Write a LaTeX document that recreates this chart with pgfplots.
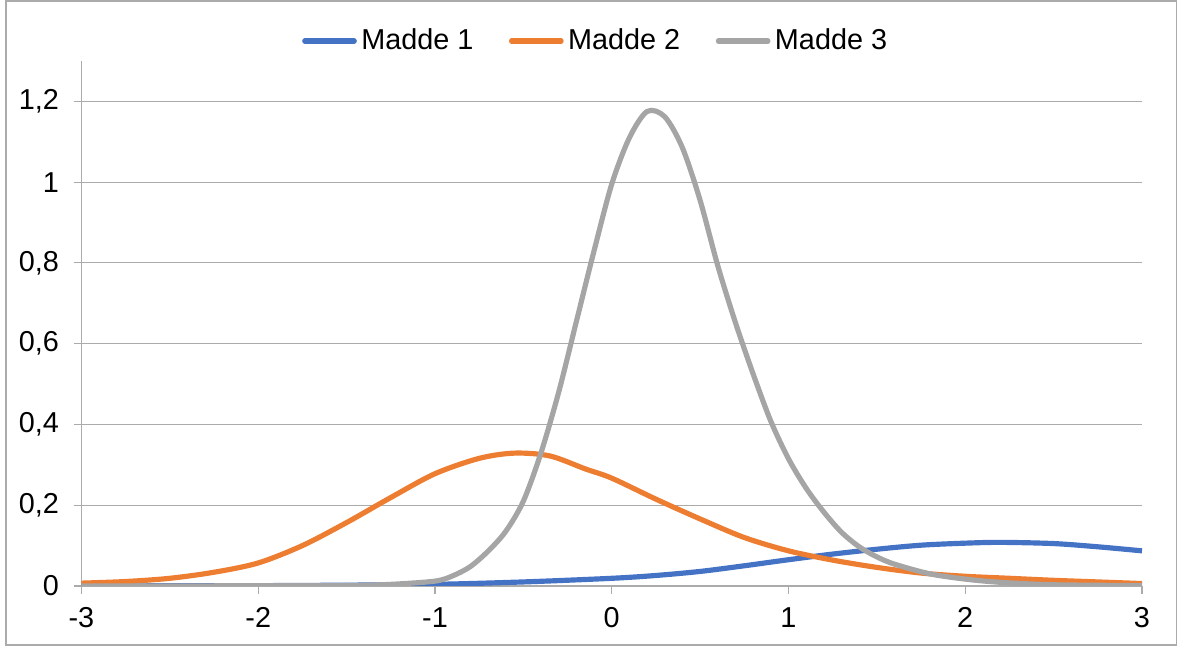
\documentclass[border=0pt]{standalone}
\usepackage{pgfplots}
\pgfplotsset{compat=1.18}
\usepackage{pgfplotstable}
\usepackage{fontspec}
\setmainfont{Liberation Sans}

\definecolor{xlblue}{HTML}{4472C4}
\definecolor{xlorange}{HTML}{ED7D31}
\definecolor{xlgray}{HTML}{A5A5A5}
\definecolor{gridgray}{HTML}{ABABAB}

% Madde 1
\pgfplotstableread{
x y
-3 0.0002
-2.5 0.0004
-2 0.0008
-1.5 0.002
-1 0.004
-0.5 0.010
0 0.019
0.25 0.026
0.5 0.036
0.75 0.050
1 0.065
1.25 0.079
1.5 0.091
1.75 0.101
2 0.106
2.2 0.108
2.5 0.105
2.75 0.097
3 0.087
}\maddeone

% Madde 2
\pgfplotstableread{
x y
-3 0.007
-2.75 0.011
-2.5 0.019
-2.25 0.034
-2 0.057
-1.75 0.100
-1.5 0.157
-1.25 0.219
-1 0.278
-0.75 0.316
-0.55 0.329
-0.35 0.322
-0.15 0.290
0 0.267
0.25 0.215
0.5 0.166
0.75 0.120
1 0.087
1.25 0.064
1.5 0.046
1.75 0.032
2 0.024
2.25 0.019
2.5 0.014
2.75 0.010
3 0.006
}\maddetwo

% Madde 3
\pgfplotstableread{
x y
-3 0.0
-2.5 0.0002
-2 0.0005
-1.5 0.001
-1.25 0.004
-1 0.012
-0.9 0.025
-0.8 0.048
-0.7 0.086
-0.6 0.135
-0.5 0.210
-0.4 0.330
-0.3 0.480
-0.2 0.655
-0.1 0.830
0 0.995
0.1 1.110
0.2 1.175
0.3 1.162
0.4 1.085
0.5 0.955
0.6 0.793
0.7 0.652
0.8 0.525
0.9 0.408
1.0 0.315
1.1 0.242
1.2 0.183
1.3 0.133
1.4 0.097
1.5 0.072
1.6 0.054
1.8 0.030
2.0 0.017
2.2 0.009
2.5 0.003
3 0.001
}\maddethree

\begin{document}
\begin{tikzpicture}
\fontsize{12.8}{15}\selectfont
\begin{axis}[
    name=ax,
    scale only axis,
    width=471.3pt, height=233.3pt,
    xmin=-3, xmax=3, ymin=0, ymax=1.3,
    axis lines=left,
    axis line style={-, draw=gridgray, line width=0.5pt},
    xtick={-3,-2,...,3},
    ytick={0,0.2,...,1.2},
    ymajorgrids,
    grid style={draw=gridgray, line width=0.5pt},
    tick align=outside,
    major tick length=3.5pt,
    tick style={draw=gridgray, line width=0.5pt},
    /pgf/number format/assume math mode=true,
    /pgf/number format/use comma,
    ticklabel style={font=\fontsize{12.8}{15}\selectfont},
    xticklabel style={inner sep=0pt, yshift=-5.8pt},
    yticklabel style={inner sep=0pt, xshift=-6.3pt},
    legend columns=3,
    legend style={draw=none, fill=none, at={(0.486,1.038)}, anchor=center,
        font=\fontsize{12.8}{15}\selectfont, inner sep=0pt,
        /tikz/every even column/.append style={column sep=13.8pt}},
    legend image code/.code={\draw[#1, line cap=round] (1pt,0pt) -- (23pt,0pt);},
    every axis plot/.append style={line width=2.3pt, smooth, no markers},
]
\addplot[xlblue] table {\maddeone};
\addlegendentry{Madde 1}
\addplot[xlorange] table {\maddetwo};
\addlegendentry{Madde 2}
\addplot[xlgray] table {\maddethree};
\addlegendentry{Madde 3}
\end{axis}
\pgfresetboundingbox
\path ([shift={(-36.2pt,-26.7pt)}]ax.south west) rectangle ([shift={(16pt,27.1pt)}]ax.north east);
\draw[gridgray, line width=0.6pt] ([shift={(-33.6pt,-26.2pt)}]ax.south west) rectangle ([shift={(15.2pt,26.7pt)}]ax.north east);
\end{tikzpicture}
\end{document}
